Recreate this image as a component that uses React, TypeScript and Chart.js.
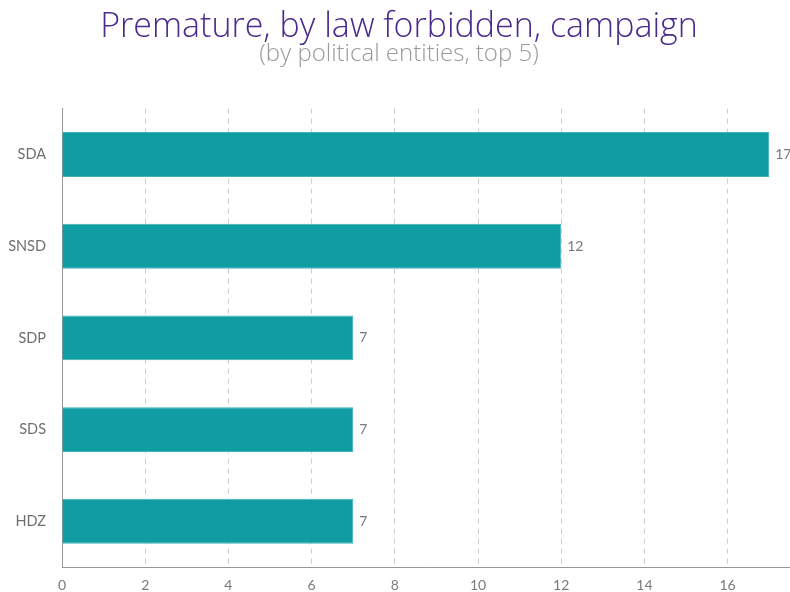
import React, { useEffect, useRef } from "react";
import { Chart, registerables } from "chart.js";

Chart.register(...registerables);

const categories = ["SDA", "SNSD", "SDP", "SDS", "HDZ"];
const values = [17, 12, 7, 7, 7];
const titleText = "Premature, by law forbidden, campaign";
const subtitleText = "(by political entities, top 5)";

const valueLabels = {
  id: "valueLabels",
  afterDatasetsDraw(chart: any) {
    const ctx = chart.ctx;
    const meta = chart.getDatasetMeta(0);
    ctx.save();
    ctx.font = "14px Lato";
    ctx.fillStyle = "#7a7a7a";
    ctx.textAlign = "left";
    ctx.textBaseline = "middle";
    meta.data.forEach((bar: any, i: number) => {
      ctx.fillText(String(values[i]), bar.x + 6, bar.y);
    });
    ctx.restore();
  },
};

export default function App() {
  const ref = useRef<HTMLCanvasElement | null>(null);
  useEffect(() => {
    if (!ref.current) return;
    const chart = new Chart(ref.current, {
      type: "bar",
      data: {
        labels: categories,
        datasets: [
          {
            data: values,
            backgroundColor: "#109ca3",
            borderColor: "#3fb2b7",
            borderWidth: 1,
            categoryPercentage: 1,
            barPercentage: 0.49,
          },
        ],
      },
      options: {
        indexAxis: "y",
        animation: false,
        responsive: true,
        maintainAspectRatio: false,
        layout: { padding: { left: 8, right: 0, top: 7, bottom: -12 } },
        plugins: {
          legend: { display: false },
          tooltip: { enabled: false },
          title: {
            display: true,
            text: titleText,
            color: "#4b2a8c",
            font: { family: "'Open Sans'", size: 34, weight: "300" as any },
            padding: { top: 0, bottom: 0 },
          },
          subtitle: {
            display: true,
            text: subtitleText,
            color: "#9a9a9a",
            font: { family: "'Open Sans'", size: 24, weight: "300" as any },
            padding: { top: -8, bottom: 40 },
          },
        },
        scales: {
          x: {
            min: 0,
            max: 17.5,
            ticks: {
              stepSize: 2,
              color: "#7a7a7a",
              font: { family: "Lato", size: 14 },
              padding: 10,
            },
            afterBuildTicks(axis: any) {
              axis.ticks = axis.ticks.filter((t: any) => t.value % 2 === 0);
            },
            grid: {
              color: "#cccccc",
              drawTicks: false,
            },
            border: { display: true, color: "#999", dash: [5, 5] } as any,
          },
          y: {
            ticks: {
              color: "#6f6f6f",
              font: { family: "Lato", size: 14.5 },
              padding: 16,
            },
            afterFit(axis: any) {
              axis.width = 54;
            },
            grid: { display: false, drawTicks: false },
            border: { display: true, color: "#999" },
          },
        },
      },
      plugins: [valueLabels],
    });
    return () => chart.destroy();
  }, []);
  return (
    <div style={{ position: "fixed", left: 0, top: 0, width: 790, height: 592, background: "#fff" }}>
      <canvas ref={ref} />
    </div>
  );
}
